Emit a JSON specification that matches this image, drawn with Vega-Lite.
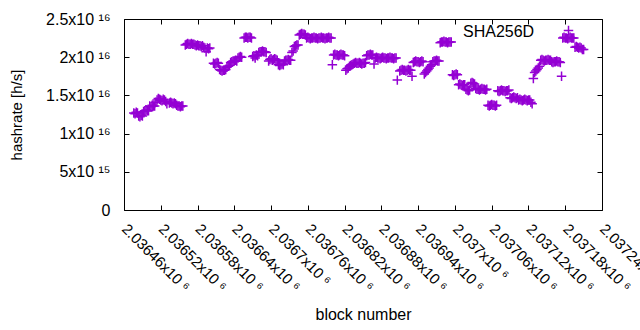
{
"$schema":"https://vega.github.io/schema/vega-lite/v6.json",
"width":478,"height":191,
"autosize":{"type":"none"},
"padding":{"left":124,"top":19,"right":38,"bottom":120},
"background":"white",
"config":{"view":{"stroke":"black","strokeWidth":1},"font":"Liberation Sans"},
"data":{"values":[
{"block":2036476,"hashrate":1.27e16},{"block":2036478,"hashrate":1.26e16},{"block":2036480,"hashrate":1.28e16},{"block":2036482,"hashrate":1.27e16},
{"block":2036484,"hashrate":1.23e16},{"block":2036486,"hashrate":1.22e16},{"block":2036488,"hashrate":1.24e16},{"block":2036490,"hashrate":1.23e16},
{"block":2036492,"hashrate":1.29e16},{"block":2036494,"hashrate":1.30e16},{"block":2036496,"hashrate":1.31e16},{"block":2036498,"hashrate":1.30e16},{"block":2036500,"hashrate":1.30e16},
{"block":2036502,"hashrate":1.36e16},{"block":2036504,"hashrate":1.35e16},{"block":2036506,"hashrate":1.37e16},{"block":2036508,"hashrate":1.36e16},{"block":2036510,"hashrate":1.36e16},
{"block":2036512,"hashrate":1.41e16},{"block":2036514,"hashrate":1.44e16},{"block":2036516,"hashrate":1.46e16},{"block":2036518,"hashrate":1.45e16},{"block":2036520,"hashrate":1.44e16},{"block":2036522,"hashrate":1.43e16},{"block":2036524,"hashrate":1.45e16},{"block":2036526,"hashrate":1.44e16},{"block":2036528,"hashrate":1.42e16},{"block":2036530,"hashrate":1.39e16},
{"block":2036534,"hashrate":1.40e16},{"block":2036536,"hashrate":1.41e16},{"block":2036538,"hashrate":1.40e16},{"block":2036540,"hashrate":1.39e16},{"block":2036542,"hashrate":1.40e16},{"block":2036544,"hashrate":1.39e16},
{"block":2036546,"hashrate":1.37e16},{"block":2036548,"hashrate":1.36e16},{"block":2036550,"hashrate":1.36e16},{"block":2036552,"hashrate":1.35e16},{"block":2036554,"hashrate":1.36e16},{"block":2036556,"hashrate":1.36e16},
{"block":2036560,"hashrate":2.16e16},{"block":2036562,"hashrate":2.17e16},{"block":2036564,"hashrate":2.18e16},{"block":2036566,"hashrate":2.17e16},{"block":2036568,"hashrate":2.17e16},{"block":2036570,"hashrate":2.18e16},{"block":2036572,"hashrate":2.17e16},{"block":2036574,"hashrate":2.17e16},{"block":2036576,"hashrate":2.16e16},
{"block":2036578,"hashrate":2.15e16},{"block":2036580,"hashrate":2.16e16},{"block":2036582,"hashrate":2.15e16},{"block":2036584,"hashrate":2.15e16},{"block":2036586,"hashrate":2.14e16},{"block":2036588,"hashrate":2.15e16},
{"block":2036590,"hashrate":2.13e16},{"block":2036592,"hashrate":2.12e16},{"block":2036594,"hashrate":2.07e16},{"block":2036596,"hashrate":2.12e16},{"block":2036598,"hashrate":2.11e16},{"block":2036600,"hashrate":2.12e16},
{"block":2036606,"hashrate":1.92e16},{"block":2036608,"hashrate":1.91e16},{"block":2036610,"hashrate":1.92e16},{"block":2036612,"hashrate":1.93e16},{"block":2036614,"hashrate":1.92e16},
{"block":2036616,"hashrate":1.84e16},{"block":2036618,"hashrate":1.83e16},{"block":2036620,"hashrate":1.82e16},{"block":2036622,"hashrate":1.83e16},{"block":2036624,"hashrate":1.83e16},{"block":2036626,"hashrate":1.84e16},
{"block":2036628,"hashrate":1.87e16},{"block":2036630,"hashrate":1.88e16},{"block":2036632,"hashrate":1.89e16},
{"block":2036634,"hashrate":1.93e16},{"block":2036636,"hashrate":1.94e16},{"block":2036638,"hashrate":1.95e16},{"block":2036640,"hashrate":1.95e16},{"block":2036642,"hashrate":1.96e16},{"block":2036644,"hashrate":1.95e16},
{"block":2036646,"hashrate":1.99e16},{"block":2036648,"hashrate":2.00e16},{"block":2036650,"hashrate":2.01e16},{"block":2036652,"hashrate":2.00e16},
{"block":2036656,"hashrate":2.25e16},{"block":2036658,"hashrate":2.26e16},{"block":2036660,"hashrate":2.26e16},{"block":2036662,"hashrate":2.25e16},{"block":2036664,"hashrate":2.26e16},{"block":2036666,"hashrate":2.26e16},{"block":2036668,"hashrate":2.25e16},
{"block":2036670,"hashrate":2.01e16},{"block":2036672,"hashrate":2.02e16},{"block":2036674,"hashrate":1.99e16},{"block":2036676,"hashrate":2.03e16},{"block":2036678,"hashrate":2.02e16},{"block":2036680,"hashrate":2.06e16},{"block":2036682,"hashrate":2.07e16},{"block":2036684,"hashrate":2.07e16},{"block":2036686,"hashrate":2.08e16},{"block":2036688,"hashrate":2.07e16},{"block":2036690,"hashrate":2.07e16},{"block":2036692,"hashrate":2.06e16},
{"block":2036696,"hashrate":1.95e16},{"block":2036698,"hashrate":1.97e16},{"block":2036700,"hashrate":1.98e16},{"block":2036702,"hashrate":1.96e16},{"block":2036704,"hashrate":1.97e16},{"block":2036706,"hashrate":1.98e16},{"block":2036708,"hashrate":1.97e16},{"block":2036710,"hashrate":1.96e16},
{"block":2036712,"hashrate":1.90e16},{"block":2036714,"hashrate":1.89e16},{"block":2036716,"hashrate":1.90e16},{"block":2036718,"hashrate":1.91e16},{"block":2036720,"hashrate":1.90e16},
{"block":2036722,"hashrate":1.95e16},{"block":2036724,"hashrate":1.96e16},{"block":2036726,"hashrate":1.96e16},{"block":2036728,"hashrate":1.97e16},{"block":2036730,"hashrate":1.96e16},{"block":2036732,"hashrate":1.96e16},
{"block":2036734,"hashrate":2.06e16},{"block":2036736,"hashrate":2.08e16},
{"block":2036738,"hashrate":2.14e16},{"block":2036740,"hashrate":2.15e16},{"block":2036742,"hashrate":2.16e16},{"block":2036744,"hashrate":2.16e16},
{"block":2036746,"hashrate":2.29e16},{"block":2036748,"hashrate":2.30e16},{"block":2036750,"hashrate":2.31e16},{"block":2036752,"hashrate":2.30e16},{"block":2036754,"hashrate":2.30e16},{"block":2036756,"hashrate":2.29e16},
{"block":2036758,"hashrate":2.25e16},{"block":2036760,"hashrate":2.26e16},{"block":2036762,"hashrate":2.25e16},{"block":2036764,"hashrate":2.24e16},{"block":2036766,"hashrate":2.25e16},{"block":2036768,"hashrate":2.25e16},{"block":2036770,"hashrate":2.26e16},{"block":2036772,"hashrate":2.25e16},{"block":2036774,"hashrate":2.25e16},{"block":2036776,"hashrate":2.24e16},{"block":2036778,"hashrate":2.25e16},{"block":2036780,"hashrate":2.25e16},{"block":2036782,"hashrate":2.26e16},{"block":2036784,"hashrate":2.25e16},{"block":2036786,"hashrate":2.25e16},{"block":2036788,"hashrate":2.24e16},{"block":2036790,"hashrate":2.25e16},{"block":2036792,"hashrate":2.25e16},{"block":2036794,"hashrate":2.26e16},{"block":2036796,"hashrate":2.25e16},{"block":2036798,"hashrate":2.25e16},
{"block":2036800,"hashrate":1.90e16},{"block":2036802,"hashrate":2.03e16},{"block":2036804,"hashrate":2.04e16},{"block":2036806,"hashrate":2.03e16},{"block":2036808,"hashrate":2.03e16},{"block":2036810,"hashrate":2.02e16},{"block":2036812,"hashrate":2.03e16},{"block":2036814,"hashrate":2.04e16},{"block":2036816,"hashrate":2.03e16},{"block":2036818,"hashrate":2.03e16},{"block":2036820,"hashrate":2.02e16},
{"block":2036822,"hashrate":1.83e16},{"block":2036824,"hashrate":1.85e16},{"block":2036826,"hashrate":1.86e16},{"block":2036828,"hashrate":1.88e16},{"block":2036830,"hashrate":1.89e16},{"block":2036832,"hashrate":1.90e16},
{"block":2036834,"hashrate":1.91e16},{"block":2036836,"hashrate":1.92e16},{"block":2036838,"hashrate":1.93e16},{"block":2036840,"hashrate":1.92e16},{"block":2036842,"hashrate":1.92e16},{"block":2036844,"hashrate":1.93e16},{"block":2036846,"hashrate":1.92e16},{"block":2036848,"hashrate":1.91e16},{"block":2036850,"hashrate":1.92e16},{"block":2036852,"hashrate":1.92e16},{"block":2036854,"hashrate":1.93e16},
{"block":2036856,"hashrate":2.02e16},{"block":2036858,"hashrate":2.03e16},{"block":2036860,"hashrate":2.03e16},{"block":2036862,"hashrate":2.04e16},{"block":2036864,"hashrate":2.03e16},{"block":2036866,"hashrate":2.03e16},
{"block":2036868,"hashrate":1.91e16},{"block":2036870,"hashrate":1.99e16},{"block":2036872,"hashrate":2.00e16},{"block":2036874,"hashrate":1.99e16},{"block":2036876,"hashrate":1.99e16},{"block":2036878,"hashrate":1.98e16},{"block":2036880,"hashrate":1.99e16},{"block":2036882,"hashrate":2.00e16},{"block":2036884,"hashrate":1.99e16},{"block":2036886,"hashrate":1.99e16},{"block":2036888,"hashrate":1.98e16},{"block":2036890,"hashrate":1.99e16},{"block":2036892,"hashrate":1.99e16},{"block":2036894,"hashrate":2.00e16},{"block":2036896,"hashrate":1.99e16},{"block":2036898,"hashrate":1.99e16},{"block":2036900,"hashrate":1.98e16},{"block":2036902,"hashrate":1.99e16},{"block":2036904,"hashrate":1.99e16},
{"block":2036906,"hashrate":1.70e16},
{"block":2036910,"hashrate":1.82e16},{"block":2036912,"hashrate":1.83e16},{"block":2036914,"hashrate":1.84e16},{"block":2036916,"hashrate":1.83e16},{"block":2036918,"hashrate":1.83e16},{"block":2036920,"hashrate":1.82e16},{"block":2036922,"hashrate":1.83e16},{"block":2036924,"hashrate":1.84e16},{"block":2036926,"hashrate":1.83e16},{"block":2036928,"hashrate":1.83e16},{"block":2036930,"hashrate":1.75e16},
{"block":2036932,"hashrate":1.93e16},{"block":2036934,"hashrate":1.94e16},{"block":2036936,"hashrate":1.95e16},{"block":2036938,"hashrate":1.94e16},{"block":2036940,"hashrate":1.94e16},{"block":2036942,"hashrate":1.93e16},{"block":2036944,"hashrate":1.94e16},{"block":2036946,"hashrate":1.95e16},{"block":2036948,"hashrate":1.94e16},
{"block":2036950,"hashrate":1.78e16},{"block":2036952,"hashrate":1.80e16},{"block":2036954,"hashrate":1.82e16},{"block":2036956,"hashrate":1.84e16},{"block":2036958,"hashrate":1.86e16},{"block":2036960,"hashrate":1.88e16},{"block":2036962,"hashrate":1.90e16},
{"block":2036964,"hashrate":1.94e16},{"block":2036966,"hashrate":1.95e16},{"block":2036968,"hashrate":1.95e16},{"block":2036970,"hashrate":1.96e16},{"block":2036972,"hashrate":1.95e16},{"block":2036974,"hashrate":1.95e16},
{"block":2036976,"hashrate":2.19e16},{"block":2036978,"hashrate":2.20e16},{"block":2036980,"hashrate":2.20e16},{"block":2036982,"hashrate":2.21e16},{"block":2036984,"hashrate":2.20e16},{"block":2036986,"hashrate":2.20e16},{"block":2036988,"hashrate":2.19e16},{"block":2036990,"hashrate":2.20e16},{"block":2036992,"hashrate":2.20e16},{"block":2036994,"hashrate":2.20e16},
{"block":2036996,"hashrate":1.77e16},{"block":2036998,"hashrate":1.76e16},{"block":2037000,"hashrate":1.77e16},{"block":2037002,"hashrate":1.78e16},{"block":2037004,"hashrate":1.77e16},
{"block":2037006,"hashrate":1.64e16},{"block":2037008,"hashrate":1.65e16},{"block":2037010,"hashrate":1.64e16},{"block":2037012,"hashrate":1.63e16},{"block":2037014,"hashrate":1.64e16},{"block":2037016,"hashrate":1.64e16},
{"block":2037018,"hashrate":1.58e16},{"block":2037020,"hashrate":1.57e16},{"block":2037022,"hashrate":1.56e16},{"block":2037024,"hashrate":1.57e16},
{"block":2037026,"hashrate":1.66e16},{"block":2037028,"hashrate":1.67e16},{"block":2037030,"hashrate":1.66e16},{"block":2037032,"hashrate":1.65e16},
{"block":2037034,"hashrate":1.59e16},{"block":2037036,"hashrate":1.58e16},{"block":2037038,"hashrate":1.58e16},{"block":2037040,"hashrate":1.57e16},{"block":2037042,"hashrate":1.58e16},{"block":2037044,"hashrate":1.59e16},{"block":2037046,"hashrate":1.58e16},{"block":2037048,"hashrate":1.58e16},{"block":2037050,"hashrate":1.57e16},{"block":2037052,"hashrate":1.58e16},
{"block":2037054,"hashrate":1.37e16},{"block":2037056,"hashrate":1.36e16},{"block":2037058,"hashrate":1.37e16},{"block":2037060,"hashrate":1.38e16},{"block":2037062,"hashrate":1.37e16},{"block":2037064,"hashrate":1.37e16},{"block":2037066,"hashrate":1.36e16},{"block":2037068,"hashrate":1.37e16},
{"block":2037070,"hashrate":1.56e16},{"block":2037072,"hashrate":1.55e16},{"block":2037074,"hashrate":1.56e16},{"block":2037076,"hashrate":1.57e16},{"block":2037078,"hashrate":1.56e16},{"block":2037080,"hashrate":1.56e16},{"block":2037082,"hashrate":1.55e16},{"block":2037084,"hashrate":1.56e16},{"block":2037086,"hashrate":1.56e16},{"block":2037088,"hashrate":1.57e16},
{"block":2037090,"hashrate":1.47e16},{"block":2037092,"hashrate":1.46e16},{"block":2037094,"hashrate":1.47e16},{"block":2037096,"hashrate":1.48e16},{"block":2037098,"hashrate":1.47e16},{"block":2037100,"hashrate":1.46e16},{"block":2037102,"hashrate":1.47e16},
{"block":2037104,"hashrate":1.44e16},{"block":2037106,"hashrate":1.45e16},{"block":2037108,"hashrate":1.44e16},{"block":2037110,"hashrate":1.43e16},{"block":2037112,"hashrate":1.44e16},{"block":2037114,"hashrate":1.45e16},{"block":2037116,"hashrate":1.44e16},{"block":2037118,"hashrate":1.43e16},{"block":2037120,"hashrate":1.44e16},{"block":2037122,"hashrate":1.44e16},{"block":2037124,"hashrate":1.41e16},{"block":2037126,"hashrate":1.39e16},
{"block":2037128,"hashrate":1.72e16},
{"block":2037130,"hashrate":1.80e16},{"block":2037132,"hashrate":1.82e16},{"block":2037134,"hashrate":1.84e16},{"block":2037136,"hashrate":1.86e16},{"block":2037138,"hashrate":1.88e16},
{"block":2037140,"hashrate":1.96e16},{"block":2037142,"hashrate":1.97e16},{"block":2037144,"hashrate":1.96e16},{"block":2037146,"hashrate":1.95e16},{"block":2037148,"hashrate":1.96e16},{"block":2037150,"hashrate":1.96e16},{"block":2037152,"hashrate":1.97e16},{"block":2037154,"hashrate":1.96e16},{"block":2037156,"hashrate":1.96e16},
{"block":2037158,"hashrate":1.94e16},{"block":2037160,"hashrate":1.93e16},{"block":2037162,"hashrate":1.94e16},{"block":2037164,"hashrate":1.94e16},{"block":2037166,"hashrate":1.95e16},{"block":2037168,"hashrate":1.94e16},{"block":2037170,"hashrate":1.94e16},{"block":2037172,"hashrate":1.93e16},{"block":2037174,"hashrate":1.75e16},
{"block":2037176,"hashrate":2.25e16},{"block":2037178,"hashrate":2.26e16},{"block":2037180,"hashrate":2.25e16},{"block":2037182,"hashrate":2.25e16},{"block":2037184,"hashrate":2.24e16},{"block":2037186,"hashrate":2.25e16},{"block":2037188,"hashrate":2.26e16},{"block":2037190,"hashrate":2.25e16},{"block":2037192,"hashrate":2.25e16},{"block":2037194,"hashrate":2.25e16},
{"block":2037196,"hashrate":2.13e16},{"block":2037198,"hashrate":2.14e16},{"block":2037200,"hashrate":2.13e16},{"block":2037202,"hashrate":2.12e16},{"block":2037204,"hashrate":2.13e16},{"block":2037206,"hashrate":2.12e16},{"block":2037208,"hashrate":2.10e16},{"block":2037210,"hashrate":2.10e16}
]},
"layer":[
{
"mark":{"type":"point","shape":"M-1,0L1,0M0,-1L0,1","filled":false,"strokeWidth":1.5,"size":90,"opacity":1},
"encoding":{
"x":{"field":"block","type":"quantitative",
"scale":{"domain":[2036460,2037240],"nice":false,"zero":false},
"axis":{"title":"block number","values":[2036460,2036520,2036580,2036640,2036700,2036760,2036820,2036880,2036940,2037000,2037060,2037120,2037180,2037240],
"labelExpr":"format(datum.value/1e6,'.5~f') + 'x10 ⁶'",
"labelAngle":45,"labelAlign":"left","labelBaseline":"middle","labelOverlap":false,"labelBound":false,"labelFlush":false,
"tickSize":-5,"tickColor":"black","labelPadding":21,"domain":false,"grid":false,
"labelFontSize":15,"labelColor":"black","titleFontSize":16,"titleFontWeight":"normal","titleColor":"black","titlePadding":12}},
"y":{"field":"hashrate","type":"quantitative",
"scale":{"domain":[0,2.5e16],"nice":false,"zero":true},
"axis":{"title":"hashrate [h/s]","values":[0,5e15,1e16,1.5e16,2e16,2.5e16],
"labelExpr":"datum.value==0?'0':datum.value==5e15?'5x10 ¹⁵':datum.value==1e16?'1x10 ¹⁶':datum.value==1.5e16?'1.5x10 ¹⁶':datum.value==2e16?'2x10 ¹⁶':'2.5x10 ¹⁶'",
"tickSize":-5,"tickColor":"black","labelPadding":19,"domain":false,"grid":false,"labelOverlap":false,"labelBound":false,"labelFlush":false,
"labelFontSize":16,"labelColor":"black","titleFontSize":15,"titleFontWeight":"normal","titleColor":"black","titlePadding":21}},
"color":{"datum":"SHA256D","scale":{"range":["#9400d3"]},
"legend":{"orient":"none","legendX":339,"legendY":6,"title":"SHA256D","titleOrient":"left","titleFontSize":16,"titleFontWeight":"normal","titleColor":"black","titlePadding":28,
"labelExpr":"''","symbolType":"M-1,0L1,0M0,-1L0,1","symbolSize":90,"symbolStrokeWidth":1.5,"symbolFillColor":"transparent","symbolStrokeColor":"#9400d3"}}
}
},
{
"mark":{"type":"point","opacity":0},
"encoding":{
"x":{"field":"block","type":"quantitative","axis":{"orient":"top","labels":false,"title":null,"domain":false,"grid":false,"tickSize":-5,"tickColor":"black","values":[2036460,2036520,2036580,2036640,2036700,2036760,2036820,2036880,2036940,2037000,2037060,2037120,2037180,2037240]}},
"y":{"field":"hashrate","type":"quantitative","axis":{"orient":"right","labels":false,"title":null,"domain":false,"grid":false,"tickSize":-5,"tickColor":"black","values":[0,5e15,1e16,1.5e16,2e16,2.5e16]}}
}
}
],
"resolve":{"axis":{"x":"independent","y":"independent"}}
}
